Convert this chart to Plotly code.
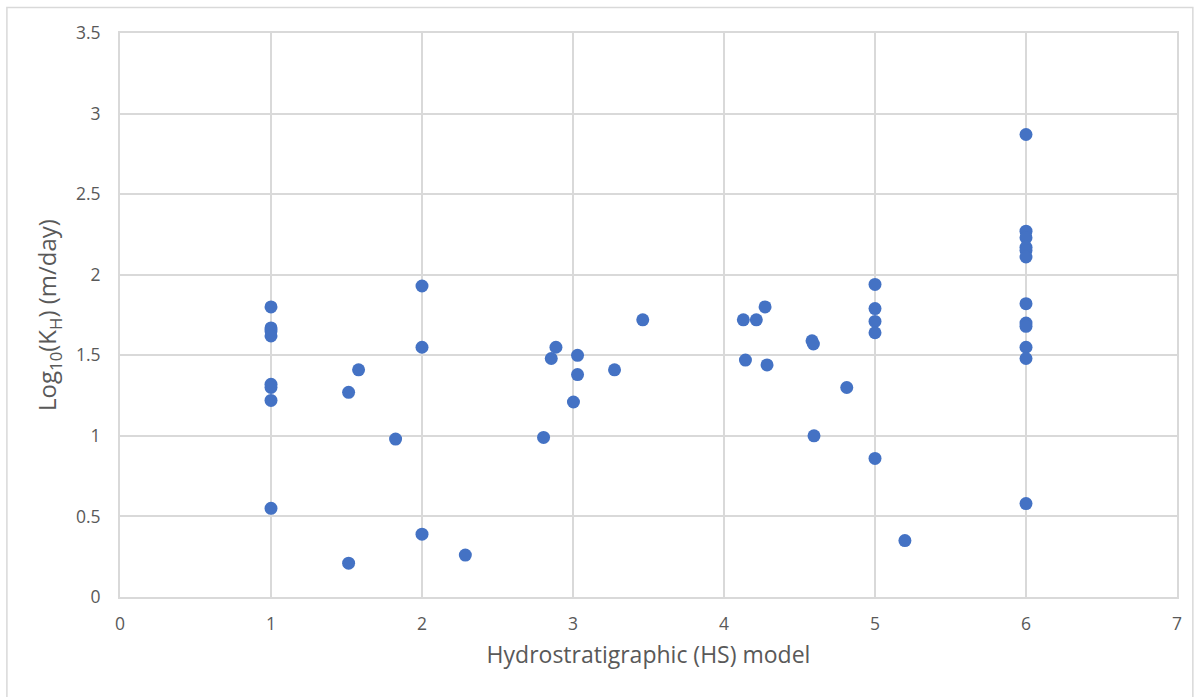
import plotly.graph_objects as go

# Hydrostratigraphic model number for each measurement
hs_model = [
    1, 1, 1, 1, 1, 1, 1, 1,
    1.514, 1.514, 1.58, 1.825,
    2, 2, 2, 2.287,
    2.805, 2.856, 2.887, 3.003, 3.03, 3.03, 3.275, 3.462,
    4.128, 4.142, 4.214, 4.272, 4.285,
    4.583, 4.592, 4.596, 4.813,
    5, 5, 5, 5, 5, 5.198,
    6, 6, 6, 6, 6, 6, 6, 6, 6, 6, 6, 6,
]

# Log10 of horizontal hydraulic conductivity (m/day)
log_kh = [
    1.80, 1.67, 1.65, 1.62, 1.32, 1.30, 1.22, 0.55,
    0.21, 1.27, 1.41, 0.98,
    1.93, 1.55, 0.39, 0.26,
    0.99, 1.48, 1.55, 1.21, 1.50, 1.38, 1.41, 1.72,
    1.72, 1.47, 1.72, 1.80, 1.44,
    1.59, 1.57, 1.00, 1.30,
    1.94, 1.79, 1.71, 1.64, 0.86, 0.35,
    2.87, 2.27, 2.23, 2.17, 2.15, 2.11, 1.82, 1.70, 1.68, 1.55, 1.48, 0.58,
]

x_ticks = [0, 1, 2, 3, 4, 5, 6, 7]
y_ticks = [0, 0.5, 1, 1.5, 2, 2.5, 3, 3.5]
y_tick_text = ["0", "0.5", "1", "1.5", "2", "2.5", "3", "3.5"]

FONT = "Open Sans, sans-serif"
GRID = "#d9d9d9"
TEXT = "#595959"

fig = go.Figure(
    go.Scatter(
        x=hs_model,
        y=log_kh,
        mode="markers",
        marker=dict(color="#4472c4", size=13, line=dict(width=0)),
        cliponaxis=False,
        showlegend=False,
    )
)

fig.update_layout(
    width=1203,
    height=697,
    margin=dict(l=120, r=26, t=33, b=100),
    paper_bgcolor="white",
    plot_bgcolor="white",
    font=dict(family=FONT, color=TEXT),
    xaxis=dict(
        range=[0, 7],
        tickvals=x_ticks,
        ticktext=[str(v) for v in x_ticks],
        showgrid=True,
        gridcolor=GRID,
        gridwidth=1.5,
        showline=True,
        linecolor=GRID,
        linewidth=2,
        mirror=True,
        zeroline=False,
        ticks="",
        ticklabelstandoff=10,
        tickfont=dict(size=17.5, color=TEXT),
        title=dict(
            text="Hydrostratigraphic (HS) model",
            font=dict(size=23, color=TEXT),
            standoff=13,
        ),
    ),
    yaxis=dict(
        range=[0, 3.5],
        tickvals=y_ticks,
        ticktext=y_tick_text,
        showgrid=True,
        gridcolor=GRID,
        gridwidth=1.5,
        showline=True,
        linecolor=GRID,
        linewidth=2,
        mirror=True,
        zeroline=False,
        ticks="",
        ticklabelstandoff=14,
        tickfont=dict(size=17.5, color=TEXT),
        title=dict(
            text="Log<sub>10</sub>(K<sub>H</sub>) (m/day)",
            font=dict(size=24, color=TEXT),
            standoff=12,
        ),
    ),
    shapes=[
        # outer chart frame
        dict(
            type="rect",
            xref="paper",
            yref="paper",
            x0=-0.107,
            x1=1.015,
            y0=-0.2,
            y1=1.045,
            line=dict(color="#d9d9d9", width=1.5),
            fillcolor="rgba(0,0,0,0)",
            layer="below",
        )
    ],
)

fig.write_html("out.html")
